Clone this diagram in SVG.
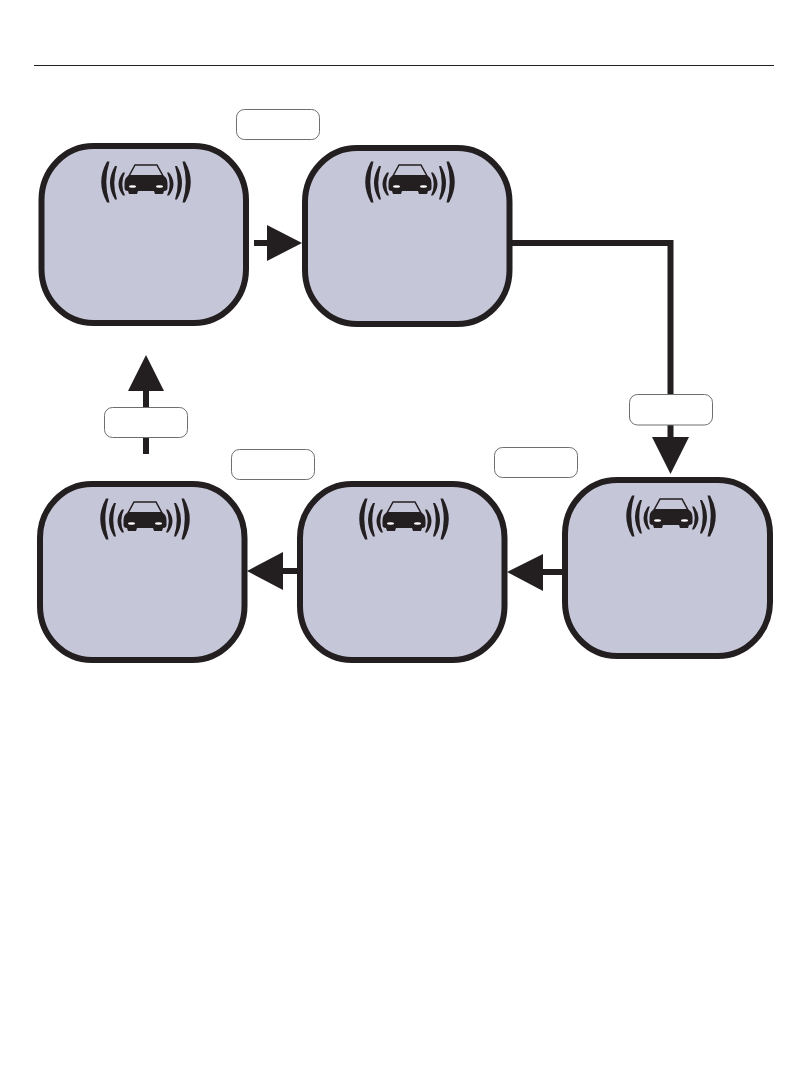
<svg xmlns="http://www.w3.org/2000/svg" xmlns:xlink="http://www.w3.org/1999/xlink" width="810" height="1065" viewBox="0 0 810 1065">
<style>
.node{fill:#c6c6d9;stroke:#231f20;stroke-width:6}
.box{fill:#fff;stroke:#6d6e71;stroke-width:1}
.wire{fill:none;stroke:#231f20;stroke-width:6}
.head{fill:#231f20}
.ink{fill:#231f20}
</style>
<defs>
<g id="car">
<path class="ink" d="M-39,-20.500 Q-50.500,0 -39,20.500 L-36.500,20.500 Q-43,0 -36.500,-20.500 Z M-31,-16 Q-41,1 -31,17.500 L-29,17.500 Q-34.500,1 -29,-16 Z M-23,-9.500 Q-32,2 -23,13.500 L-21,13.500 Q-26.500,2 -21,-9.500 Z"/>
<path class="ink" d="M39,-20.500 Q50.500,0 39,20.500 L36.500,20.500 Q43,0 36.500,-20.500 Z M31,-16 Q41,1 31,17.500 L29,17.500 Q34.500,1 29,-16 Z M23,-9.500 Q32,2 23,13.500 L21,13.500 Q26.500,2 21,-9.500 Z"/>
<path d="M-11,-17 L11,-17 L17,-6 L-17,-6 Z" fill="none" stroke="#231f20" stroke-width="1.500"/>
<path class="ink" d="M-16,-7 L16,-7 Q21.500,-5 21.500,1 L21.500,6 Q21.500,9 18,9 L17,12 L9,12 L8,9 L-8,9 L-9,12 L-17,12 L-18,9 Q-21.500,9 -21.500,6 L-21.500,1 Q-21.500,-5 -16,-7 Z"/>
<ellipse cx="-13.500" cy="4.500" rx="3.500" ry="1.200" fill="#fff"/>
<ellipse cx="13.500" cy="4.500" rx="3.500" ry="1.200" fill="#fff"/>
</g>
</defs>
<rect width="810" height="1065" fill="#fff"/>
<line x1="34" y1="65.500" x2="774" y2="65.500" stroke="#231f20" stroke-width="1"/>
<g id="connectors">
<path class="wire" d="M254,243H270"/>
<polygon class="head" points="267,225 302,243 267,261"/>
<path class="wire" d="M510,243H670.500V440"/>
<polygon class="head" points="652,437 689,437 670.500,474"/>
<path class="wire" d="M565,572H540"/>
<polygon class="head" points="543,554 543,591 507,572"/>
<path class="wire" d="M300,571H280"/>
<polygon class="head" points="283,552 283,590 247,571"/>
<path class="wire" d="M146,454V388"/>
<polygon class="head" points="128,391 164,391 146,355"/>
</g>
<g id="node-1"><rect class="node" x="41.500" y="146" width="204.500" height="177" rx="52" ry="54"/><use xlink:href="#car" href="#car" x="146" y="182"/></g>
<g id="node-2"><rect class="node" x="305" y="148" width="204.500" height="176" rx="52" ry="54"/><use xlink:href="#car" href="#car" x="410" y="182"/></g>
<g id="node-3"><rect class="node" x="565" y="480" width="205" height="176" rx="52" ry="54"/><use xlink:href="#car" href="#car" x="671" y="516"/></g>
<g id="node-4"><rect class="node" x="300" y="484" width="204.500" height="176" rx="52" ry="54"/><use xlink:href="#car" href="#car" x="404" y="519"/></g>
<g id="node-5"><rect class="node" x="40" y="484" width="204.500" height="176" rx="52" ry="54"/><use xlink:href="#car" href="#car" x="145" y="519"/></g>
<g id="label-1"><rect class="box" x="236.500" y="109.500" width="83" height="30" rx="8"/></g>
<g id="label-2"><rect class="box" x="629.500" y="394.500" width="83" height="30.500" rx="8"/></g>
<g id="label-3"><rect class="box" x="494.500" y="447.500" width="83" height="30" rx="8"/></g>
<g id="label-4"><rect class="box" x="231.500" y="449.500" width="83" height="30" rx="8"/></g>
<g id="label-5"><rect class="box" x="104.500" y="407.500" width="83" height="30" rx="8"/></g>
</svg>
